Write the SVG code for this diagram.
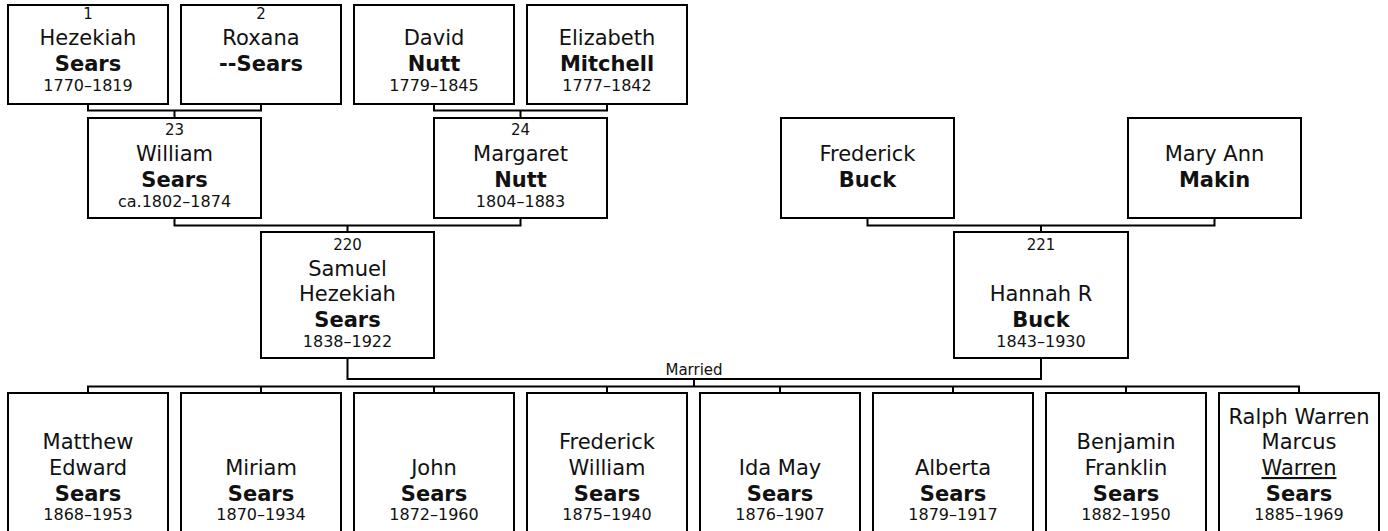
<svg xmlns="http://www.w3.org/2000/svg" width="1388" height="531" viewBox="0 0 1388 531">
<style>
rect.box{fill:#fff;stroke:#000;stroke-width:2}
.con{fill:none;stroke:#000;stroke-width:2}
text{font-family:"DejaVu Sans","Liberation Sans",sans-serif;fill:#111;text-anchor:middle}
.num{font-size:15px}
.nm{font-size:21px}
.sn{font-size:21px;font-weight:bold}
.dt{font-size:16px}
.lbl{font-size:15px}
</style>
<rect width="1388" height="531" fill="#fff"/>
<g id="connectors">
<path class="con" d="M88,104V110.5H261V104M174.5,110.5V118"/>
<path class="con" d="M434,104V110.5H607V104M520.5,110.5V118"/>
<path class="con" d="M174.5,218V225.5H520.5V218M347.5,225.5V232"/>
<path class="con" d="M867.5,218V225.5H1214.5V218M1041,225.5V232"/>
<path class="con" d="M347.5,358V379H1041V358M694,379V386.5"/>
<path class="con" d="M88,393V386.5H1299V393M261,386.5V393M434,386.5V393M607,386.5V393M780,386.5V393M953,386.5V393M1126,386.5V393"/>
<text class="lbl" x="694" y="375">Married</text>
</g>
<g id="p1"><rect class="box" x="8" y="5" width="160" height="99"/>
<text class="num" x="88" y="19">1</text><text class="nm" x="88" y="45">Hezekiah</text><text class="sn" x="88" y="71">Sears</text><text class="dt" x="88" y="91">1770–1819</text></g>
<g id="p2"><rect class="box" x="181" y="5" width="160" height="99"/>
<text class="num" x="261" y="19">2</text><text class="nm" x="261" y="45">Roxana</text><text class="sn" x="261" y="71">--Sears</text></g>
<g id="p-david"><rect class="box" x="354" y="5" width="160" height="99"/>
<text class="nm" x="434" y="45">David</text><text class="sn" x="434" y="71">Nutt</text><text class="dt" x="434" y="91">1779–1845</text></g>
<g id="p-elizabeth"><rect class="box" x="527" y="5" width="160" height="99"/>
<text class="nm" x="607" y="45">Elizabeth</text><text class="sn" x="607" y="71">Mitchell</text><text class="dt" x="607" y="91">1777–1842</text></g>
<g id="p23"><rect class="box" x="88" y="118" width="173" height="100"/>
<text class="num" x="174.5" y="135">23</text><text class="nm" x="174.5" y="161">William</text><text class="sn" x="174.5" y="187">Sears</text><text class="dt" x="174.5" y="207">ca.1802–1874</text></g>
<g id="p24"><rect class="box" x="434" y="118" width="173" height="100"/>
<text class="num" x="520.5" y="135">24</text><text class="nm" x="520.5" y="161">Margaret</text><text class="sn" x="520.5" y="187">Nutt</text><text class="dt" x="520.5" y="207">1804–1883</text></g>
<g id="p-frederick-buck"><rect class="box" x="781" y="118" width="173" height="100"/>
<text class="nm" x="867.5" y="161">Frederick</text><text class="sn" x="867.5" y="187">Buck</text></g>
<g id="p-maryann"><rect class="box" x="1128" y="118" width="173" height="100"/>
<text class="nm" x="1214.5" y="161">Mary Ann</text><text class="sn" x="1214.5" y="187">Makin</text></g>
<g id="p220"><rect class="box" x="261" y="232" width="173" height="126"/>
<text class="num" x="347.5" y="250">220</text><text class="nm" x="347.5" y="275.5">Samuel</text><text class="nm" x="347.5" y="301">Hezekiah</text><text class="sn" x="347.5" y="326.5">Sears</text><text class="dt" x="347.5" y="346.5">1838–1922</text></g>
<g id="p221"><rect class="box" x="954" y="232" width="174" height="126"/>
<text class="num" x="1041" y="250">221</text><text class="nm" x="1041" y="301">Hannah R</text><text class="sn" x="1041" y="326.5">Buck</text><text class="dt" x="1041" y="346.5">1843–1930</text></g>
<g id="c1"><rect class="box" x="8" y="393" width="160" height="150"/>
<text class="nm" x="88" y="449">Matthew</text><text class="nm" x="88" y="475">Edward</text><text class="sn" x="88" y="500.5">Sears</text><text class="dt" x="88" y="520">1868–1953</text></g>
<g id="c2"><rect class="box" x="181" y="393" width="160" height="150"/>
<text class="nm" x="261" y="475">Miriam</text><text class="sn" x="261" y="500.5">Sears</text><text class="dt" x="261" y="520">1870–1934</text></g>
<g id="c3"><rect class="box" x="354" y="393" width="160" height="150"/>
<text class="nm" x="434" y="475">John</text><text class="sn" x="434" y="500.5">Sears</text><text class="dt" x="434" y="520">1872–1960</text></g>
<g id="c4"><rect class="box" x="527" y="393" width="160" height="150"/>
<text class="nm" x="607" y="449">Frederick</text><text class="nm" x="607" y="475">William</text><text class="sn" x="607" y="500.5">Sears</text><text class="dt" x="607" y="520">1875–1940</text></g>
<g id="c5"><rect class="box" x="700" y="393" width="160" height="150"/>
<text class="nm" x="780" y="475">Ida May</text><text class="sn" x="780" y="500.5">Sears</text><text class="dt" x="780" y="520">1876–1907</text></g>
<g id="c6"><rect class="box" x="873" y="393" width="160" height="150"/>
<text class="nm" x="953" y="475">Alberta</text><text class="sn" x="953" y="500.5">Sears</text><text class="dt" x="953" y="520">1879–1917</text></g>
<g id="c7"><rect class="box" x="1046" y="393" width="160" height="150"/>
<text class="nm" x="1126" y="449">Benjamin</text><text class="nm" x="1126" y="475">Franklin</text><text class="sn" x="1126" y="500.5">Sears</text><text class="dt" x="1126" y="520">1882–1950</text></g>
<g id="c8"><rect class="box" x="1219" y="393" width="160" height="150"/>
<text class="nm" x="1299" y="423.5">Ralph Warren</text><text class="nm" x="1299" y="449">Marcus</text><text class="nm" x="1299" y="475" text-decoration="underline">Warren</text><text class="sn" x="1299" y="500.5">Sears</text><text class="dt" x="1299" y="520">1885–1969</text></g>
</svg>
